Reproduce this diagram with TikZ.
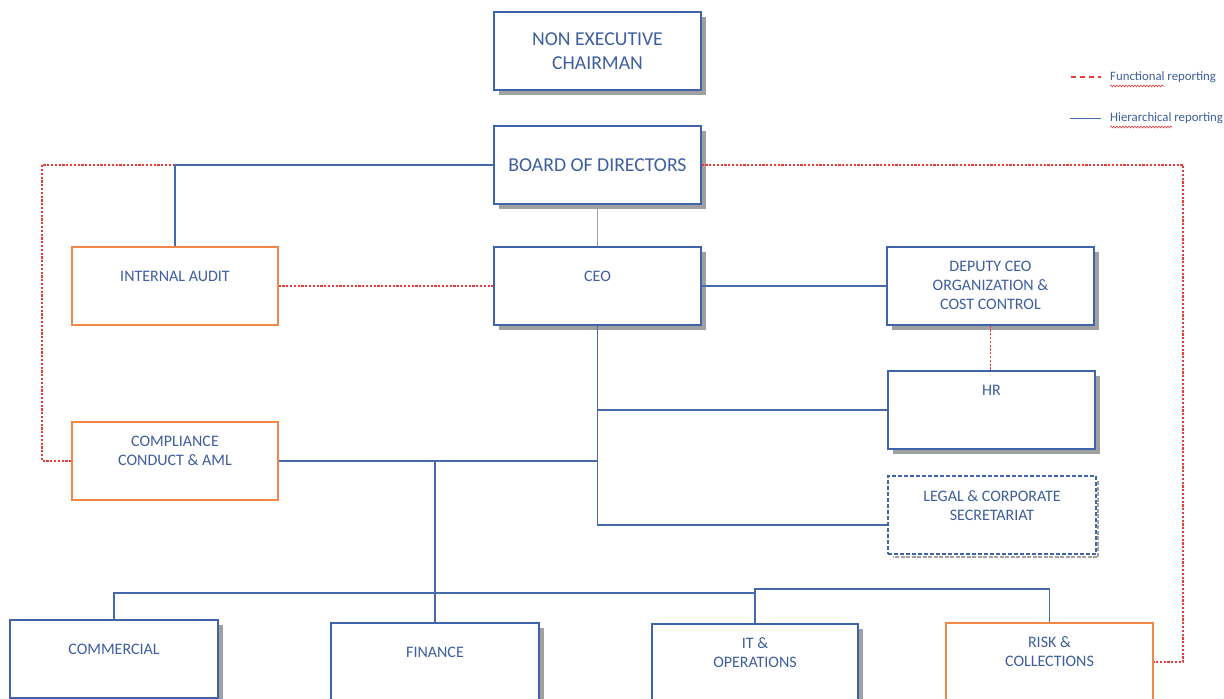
\documentclass[tikz,border=0pt]{standalone}
\usepackage{fontspec}
\setmainfont{Carlito}
\usetikzlibrary{shadows,decorations.pathmorphing}
\definecolor{txtblue}{RGB}{62,94,160}
\definecolor{boxblue}{RGB}{64,100,170}
\definecolor{lineblue}{RGB}{70,105,172}
\definecolor{orgline}{RGB}{240,135,70}
\definecolor{redline}{RGB}{232,60,60}
\definecolor{shadowgray}{RGB}{160,160,160}
\tikzset{
  boxbase/.style={rectangle, fill=white, line width=1.3pt, minimum width=207pt, minimum height=78pt, inner sep=0pt},
  bluebox/.style={boxbase, draw=boxblue},
  shadowbox/.style={bluebox, drop shadow={shadow xshift=5pt, shadow yshift=-5pt, fill=shadowgray, opacity=1}},
  orangebox/.style={boxbase, draw=orgline},
  dashbox/.style={boxbase, draw=boxblue, dash pattern=on 4pt off 2pt},
  lbl/.style={text=txtblue, font=\fontsize{16}{18.5}\selectfont, align=center, inner sep=0pt},
  biglbl/.style={text=txtblue, font=\fontsize{19.7}{23.5}\selectfont, align=center, inner sep=0pt},
  hier/.style={draw=lineblue, line width=1.2pt},
  func/.style={draw=redline, line width=1.2pt, dash pattern=on 2.2pt off 1.6pt},
  grayline/.style={draw=shadowgray, line width=1.1pt},
  squiggle/.style={draw=redline, line width=0.6pt, decorate, decoration={snake, amplitude=0.9pt, segment length=3pt}},
  legtxt/.style={text=txtblue, font=\fontsize{12.8}{15}\selectfont, anchor=west, inner sep=0pt}
}
\begin{document}
\begin{tikzpicture}[x=1pt,y=-1pt]
\useasboundingbox (0,0) rectangle (1224,699);
\clip (0,0) rectangle (1224,699);
\fill[white] (0,0) rectangle (1224,699);

% boxes
\node[shadowbox] (chair) at (597.5,51) {};
\node[shadowbox] (board) at (597.5,165) {};
\node[shadowbox] (ceo) at (597.5,286) {};
\node[orangebox, minimum width=206pt] (audit) at (175,286) {};
\node[shadowbox] (deputy) at (990.5,286) {};
\node[shadowbox] (hr) at (991.5,410) {};
\draw[shadowgray, line width=2.6pt, dash pattern=on 4pt off 1.5pt] (1098,481) -- (1098,557) -- (893,557);
\node[dashbox, minimum width=208pt] (legal) at (992,515) {};
\node[orangebox, minimum width=206pt] (compl) at (175,461) {};
\node[shadowbox, minimum width=208pt] (comm) at (114,659) {};
\node[shadowbox, minimum width=208pt] (fin) at (435,662) {};
\node[shadowbox, minimum width=206pt] (it) at (755,663) {};
\node[orangebox, minimum width=207pt] (risk) at (1049.5,662) {};

% labels
\node[biglbl] (tchair) at (597.5,51) {NON EXECUTIVE\\[0.5pt]CHAIRMAN};
\node[biglbl] (tboard) at (597.5,165) {BOARD OF DIRECTORS};
\node[lbl] (tceo) at (597.5,276) {CEO};
\node[lbl] (taudit) at (175,276) {INTERNAL AUDIT};
\node[lbl] (tdep) at (990.5,285.5) {DEPUTY CEO\\[0.5pt]ORGANIZATION \&\\[0.5pt]COST CONTROL};
\node[lbl] (thr) at (991.5,390) {HR};
\node[lbl] (tlegal) at (992,505.5) {LEGAL \& CORPORATE\\[0.5pt]SECRETARIAT};
\node[lbl] (tcompl) at (175,451) {COMPLIANCE\\[0.5pt]CONDUCT \& AML};
\node[lbl] (tcomm) at (114,649) {COMMERCIAL};
\node[lbl] (tfin) at (435,652) {FINANCE};
\node[lbl] (tit) at (755,652.5) {IT \&\\[0.5pt]OPERATIONS};
\node[lbl] (trisk) at (1049.5,651.5) {RISK \&\\[0.5pt]COLLECTIONS};

% coordinates
\coordinate (lcorner) at (42,165);
\coordinate (rcorner) at (1183,165);
\coordinate (bar) at (0,593);
\coordinate (bar2) at (0,589);
\coordinate (legalin) at ([yshift=-10pt]legal.west);

% functional (red dotted)
\draw[func] (compl.west) -| (lcorner) -- (board.west);
\draw[func] (board.east) -- (rcorner) |- (risk.east);
\draw[func] (audit.east) -- (ceo.west);
\draw[func] (deputy.south) -- (deputy.south |- hr.north);

% hierarchical
\draw[grayline] (board.south) -- (ceo.north);
\draw[hier] (board.west) -| (audit.north);
\draw[hier] (ceo.east) -- (deputy.west);
\draw[hier] (ceo.south) -- (ceo.south |- legalin) -- (legalin);
\draw[hier] (ceo.south |- hr.west) -- (hr.west);
\draw[hier] (compl.east) -- (ceo.south |- compl.east);
\draw[hier] (fin.north |- compl.east) -- (fin.north);
\draw[hier] (comm.north) |- (bar -| it.north);
\draw[hier] (it.north) |- (bar2 -| risk.north) -- (risk.north);

% legend
\coordinate (lf1) at (1071,77);
\coordinate (lf2) at (1101,77);
\coordinate (lh1) at (1070,118);
\coordinate (lh2) at (1101,118);
\draw[func, dash pattern=on 5pt off 4pt] (lf1) -- (lf2);
\draw[hier, line width=1pt] (lh1) -- (lh2);
\node[legtxt] (lgf) at (1110,77) {Functional reporting};
\node[legtxt] (lgh) at (1110,118) {Hierarchical reporting};
\draw[squiggle] (1110,86) -- (1164,86);
\draw[squiggle] (1110,127) -- (1172,127);
\end{tikzpicture}
\end{document}
